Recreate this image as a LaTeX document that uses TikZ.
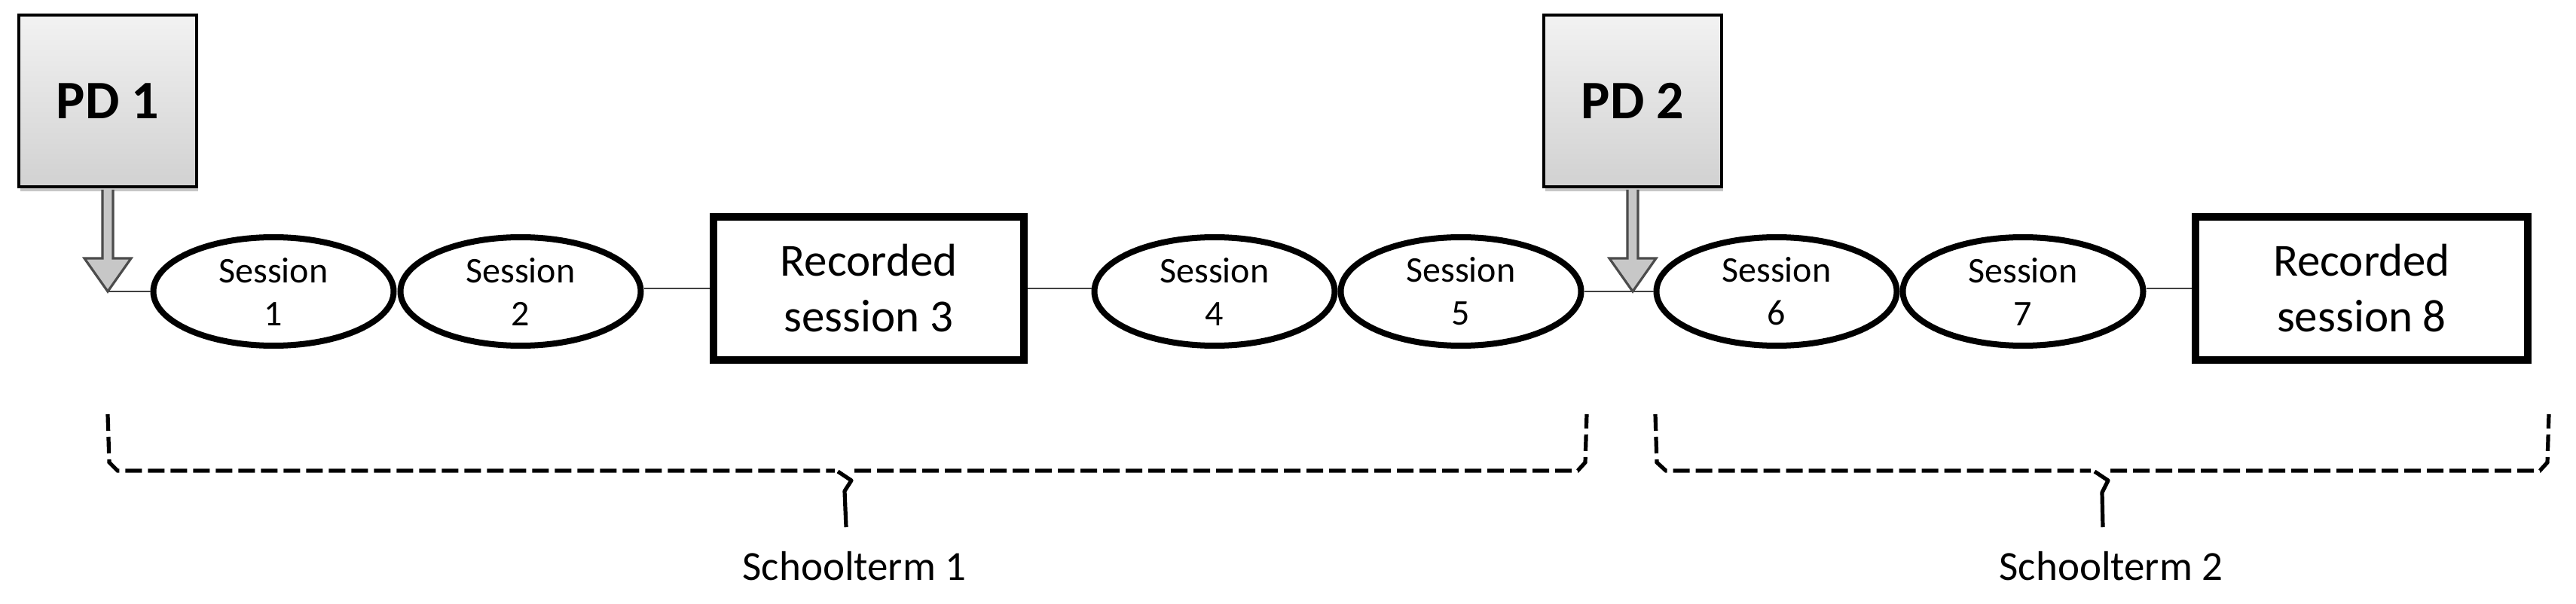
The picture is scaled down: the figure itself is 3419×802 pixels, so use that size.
\documentclass[tikz,border=0pt]{standalone}
\usepackage{fontspec}
\setmainfont{Carlito}
\usetikzlibrary{calc,shadows,shapes.geometric}
\begin{document}
\begin{tikzpicture}[x=0.25pt,y=-0.25pt,
 sess/.style={ellipse,draw=black,line width=2pt,minimum width=79.75pt,minimum height=36pt,inner sep=0pt,align=center,font=\fontsize{12}{14.25}\selectfont},
 rec/.style={rectangle,draw=black,line width=2.5pt,minimum width=103pt,minimum height=47.25pt,inner sep=0pt,align=center,font=\fontsize{15.25}{18.5}\selectfont},
 pdbox/.style={rectangle,draw=black,line width=1pt,top color=black!5,bottom color=black!18,minimum width=59pt,minimum height=57pt,inner sep=0pt,font=\fontsize{18}{20}\selectfont\bfseries,drop shadow={shadow xshift=0.6pt,shadow yshift=-1.6pt,opacity=0.45}},
 link/.style={draw=black!75,line width=0.6pt},
 pdarrow/.style={draw=black!70,fill=black!22,line width=0.8pt,line join=miter},
 brace/.style={line width=1.3pt,dash pattern=on 5.5pt off 2pt},
 bracetick/.style={line width=1.3pt,line join=round},
 term/.style={font=\fontsize{13.75}{15}\selectfont,anchor=base,inner sep=0pt}]
\useasboundingbox (0,0) rectangle (3419,802);

% PD boxes
\node[pdbox] (pd1) at (143,134) {PD 1};
\node[pdbox] (pd2) at (2167,134) {PD 2};

% sessions
\node[sess] (e1) at (363,387) {Session\\1};
\node[sess] (e2) at (691,387) {Session\\2};
\node[rec] (b3) at (1153,383) {Recorded\\session 3};
\node[sess] (e4) at (1612,387) {Session\\4};
\node[sess] (e5) at (1939,387) {Session\\5};
\node[sess] (e6) at (2358,387) {Session\\6};
\node[sess] (e7) at (2685,387) {Session\\7};
\node[rec,minimum width=110.25pt] (b8) at (3134.5,383) {Recorded\\session 8};

\coordinate (tip1) at (143,387);
\coordinate (tip2) at (2167,387);

% connectors
\draw[link] (tip1) -- (e1.west);
\draw[link] (b3.west -| e2.east) -- (b3.west);
\draw[link] (b3.east) -- (b3.east -| e4.west);
\draw[link] (e5.east) -- (e6.west);
\draw[link] (b8.west -| e7.east) -- (b8.west);

% PD arrows
\draw[pdarrow] ($(pd1.south)+(-7,2)$) -- ($(tip1)+(-7,-44)$) -- ($(tip1)+(-31,-44)$) -- (tip1) -- ($(tip1)+(31,-44)$) -- ($(tip1)+(7,-44)$) -- ($(pd1.south)+(7,2)$);
\draw[pdarrow] ($(pd2.south)+(-7,2)$) -- ($(tip2)+(-7,-44)$) -- ($(tip2)+(-31,-44)$) -- (tip2) -- ($(tip2)+(31,-44)$) -- ($(tip2)+(7,-44)$) -- ($(pd2.south)+(7,2)$);

% term braces
\draw[brace] (143,550) -- (145,614) -- (156,625) -- (1108,625);
\draw[brace] (1134,625) -- (2094,625) -- (2104,614) -- (2106,550);
\draw[bracetick] (1112,626) -- (1130,638) -- (1121,652) -- (1123,700);
\draw[brace] (2197,550) -- (2199,614) -- (2211,625) -- (2775,625);
\draw[brace] (2801,625) -- (3371,625) -- (3381,614) -- (3383,550);
\draw[bracetick] (2780,626) -- (2798,638) -- (2790,654) -- (2791,700);

\node[term] (t1) at (1134,770) {Schoolterm 1};
\node[term] (t2) at (2802,770) {Schoolterm 2};
\end{tikzpicture}
\end{document}
